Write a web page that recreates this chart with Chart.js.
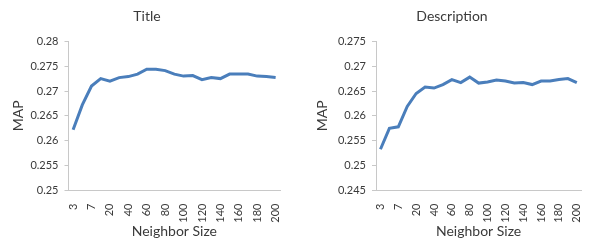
<!DOCTYPE html>
<html>
<head>
<meta charset="utf-8">
<script src="https://cdn.jsdelivr.net/npm/chart.js@4"></script>
<style>
  body { margin: 0; width: 595px; height: 240px; overflow: hidden; background: #fff; position: relative; }
  .box { position: absolute; top: 0; height: 240px; }
</style>
</head>
<body>
<div class="box" style="left:0;width:294px"><canvas id="titleChart"></canvas></div>
<div class="box" style="left:309px;width:286px"><canvas id="descChart"></canvas></div>
<script>
const neighborSizes = ['3', '5', '7', '10', '20', '30', '40', '50', '60', '70', '80', '90',
  '100', '110', '120', '130', '140', '150', '160', '170', '180', '190', '200'];
const titleMap = [0.2622, 0.2672, 0.2710, 0.2725, 0.2720, 0.2727, 0.2729, 0.2734, 0.2744, 0.2744,
  0.2741, 0.2734, 0.2730, 0.2731, 0.2723, 0.2727, 0.2725, 0.2734, 0.2734, 0.2734, 0.2730, 0.2729, 0.2727];
const descMap = [0.2533, 0.2575, 0.2578, 0.2619, 0.2645, 0.2658, 0.2656, 0.2663, 0.2673, 0.2667,
  0.2678, 0.2666, 0.2668, 0.2672, 0.2670, 0.2666, 0.2667, 0.2663, 0.2670, 0.2670, 0.2673, 0.2675, 0.2667];
const titleTicks = { min: 0.25, max: 0.28 };
const descTicks = { min: 0.245, max: 0.275 };

const textColor = '#3a3a3a';
const axisColor = '#c8c8c8';
const font = 'Lato';

function makeChart(id, heading, values, range, yWidth, rightGap, mapPad) {
  const ctx = document.getElementById(id).getContext('2d');
  const scales = {
    x: {
      offset: true,
      grid: { display: false },
      border: { display: true, color: axisColor, width: 1 },
      ticks: {
        autoSkip: false,
        maxRotation: 90,
        minRotation: 90,
        padding: 5,
        color: textColor,
        font: { family: font, size: 11 },
        callback: function(val, i) {
          // only every other label is shown
          return i % 2 === 0 ? neighborSizes[i] : '';
        }
      },
      title: {
        display: true,
        text: 'Neighbor Size',
        color: textColor,
        font: { family: font, size: 14 },
        padding: { top: 2, bottom: 0 }
      },
      afterFit: function(s) { s.height = 49.5; }
    },
    y: {
      min: range.min,
      max: range.max,
      grid: { drawOnChartArea: false, drawTicks: true, tickLength: 4, color: axisColor },
      border: { display: true, color: axisColor, width: 1 },
      ticks: {
        stepSize: 0.005,
        padding: 6,
        color: textColor,
        font: { family: font, size: 11 },
        callback: function(v) { return String(+v.toFixed(3)); }
      },
      title: {
        display: true,
        text: 'MAP',
        color: textColor,
        font: { family: font, size: 14 },
        padding: { top: mapPad, bottom: 0 }
      },
      afterFit: function(s) { s.width = yWidth; }
    }
  };
  if (rightGap > 0) {
    scales.gap = {
      position: 'right',
      display: true,
      grid: { display: false },
      border: { display: false },
      ticks: { display: false },
      afterFit: function(s) { s.width = rightGap; }
    };
  }
  return new Chart(ctx, {
    type: 'line',
    data: {
      labels: neighborSizes,
      datasets: [{
        data: values,
        borderColor: '#4a7ebb',
        borderWidth: 3,
        pointRadius: 0,
        tension: 0,
        fill: false
      }]
    },
    options: {
      responsive: true,
      maintainAspectRatio: false,
      animation: false,
      layout: { padding: 0 },
      plugins: {
        legend: { display: false },
        tooltip: { enabled: false },
        title: {
          display: true,
          text: heading,
          color: textColor,
          font: { family: font, size: 14, weight: 'normal' },
          padding: { top: 8, bottom: 16.5 }
        }
      },
      scales: scales
    }
  });
}

makeChart('titleChart', 'Title', titleMap, titleTicks, 68.5, 7.5, 10);
makeChart('descChart', 'Description', descMap, descTicks, 67, 0, 5.5);
</script>
</body>
</html>
